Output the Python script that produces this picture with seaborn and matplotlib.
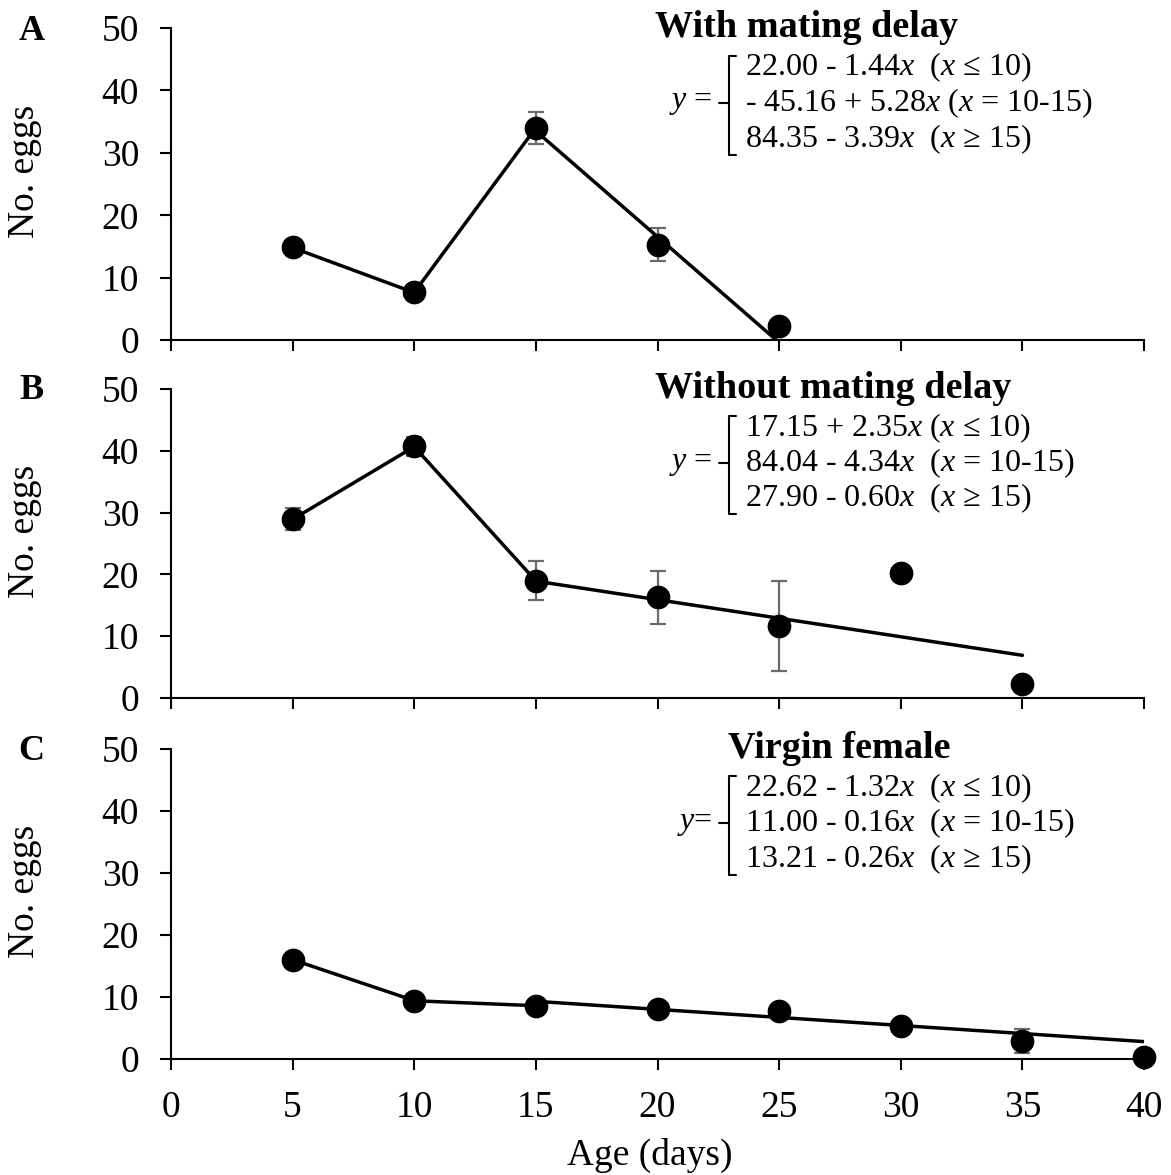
import numpy as np
import pandas as pd
import matplotlib
matplotlib.use("Agg")
import matplotlib.pyplot as plt
import seaborn as sns

# ---- data -------------------------------------------------------------
ages_a = [5, 10, 15, 20, 25]
eggs_a = [14.9, 7.7, 34.0, 15.3, 2.2]
se_a = [0.0, 0.0, 2.5, 2.7, 0.0]

ages_b = [5, 10, 15, 20, 25, 30, 35]
eggs_b = [28.9, 40.7, 19.0, 16.3, 11.6, 20.2, 2.2]
se_b = [1.8, 1.6, 3.1, 4.3, 7.3, 0.0, 0.0]

ages_c = [5, 10, 15, 20, 25, 30, 35, 40]
eggs_c = [15.9, 9.4, 8.6, 8.1, 7.8, 5.4, 2.9, 0.4]
se_c = [0.0, 0.0, 0.0, 0.0, 0.0, 0.0, 1.9, 0.0]

# piecewise regression: (intercept, slope) and the x-range of each piece
fit_a = [(22.00, -1.44), (-45.16, 5.28), (84.35, -3.39)]
fit_b = [(17.15, 2.35), (84.04, -4.34), (27.90, -0.60)]
fit_c = [(22.62, -1.32), (11.00, -0.16), (13.21, -0.26)]
ranges_a = [(5, 10), (10, 15), (15, 25)]
ranges_b = [(5, 10), (10, 15), (15, 35)]
ranges_c = [(5, 10), (10, 15), (15, 40)]

titles = ["With mating delay", "Without mating delay", "Virgin female"]
letters = ["A", "B", "C"]
eq_lhs = ["$y$ =", "$y$ =", "$y$="]
eq_a = ["22.00 - 1.44$x$  ($x$ \u2264 10)",
        "- 45.16 + 5.28$x$ ($x$ = 10-15)",
        "84.35 - 3.39$x$  ($x$ \u2265 15)"]
eq_b = ["17.15 + 2.35$x$ ($x$ \u2264 10)",
        "84.04 - 4.34$x$  ($x$ = 10-15)",
        "27.90 - 0.60$x$  ($x$ \u2265 15)"]
eq_c = ["22.62 - 1.32$x$  ($x$ \u2264 10)",
        "11.00 - 0.16$x$  ($x$ = 10-15)",
        "13.21 - 0.26$x$  ($x$ \u2265 15)"]
x_ticks = [0, 5, 10, 15, 20, 25, 30, 35, 40]
y_ticks = [0, 10, 20, 30, 40, 50]

# ---- style --------------------------------------------------------------
sns.set_theme(style="ticks")
plt.rcParams["font.family"] = ["Liberation Serif", "DejaVu Serif"]
plt.rcParams["mathtext.fontset"] = "custom"
plt.rcParams["mathtext.rm"] = "Liberation Serif"
plt.rcParams["mathtext.it"] = "Liberation Serif:italic"
plt.rcParams["axes.linewidth"] = 1.5

fig = plt.figure(figsize=(11.71, 11.75), dpi=100)

left, width = 0.1460, 0.8310
rects = [
    (left, 0.7106, width, 0.2655),
    (left, 0.4060, width, 0.2630),
    (left, 0.0987, width, 0.2638),
]

panels = [
    (ages_a, eggs_a, se_a, fit_a, ranges_a, eq_a, 0.497),
    (ages_b, eggs_b, se_b, fit_b, ranges_b, eq_b, 0.497),
    (ages_c, eggs_c, se_c, fit_c, ranges_c, eq_c, 0.572),
]
letter_y = [0.973, 0.668, 0.360]

for i, (rect, (ages, eggs, se, fit, rngs, eqs, title_x)) in enumerate(zip(rects, panels)):
    ax = fig.add_axes(rect)

    # fitted piecewise lines
    for (b0, b1), (x0, x1) in zip(fit, rngs):
        seg = pd.DataFrame({"age": [x0, x1], "eggs": [b0 + b1 * x0, b0 + b1 * x1]})
        sns.lineplot(data=seg, x="age", y="eggs", ax=ax, color="black",
                     linewidth=2.5, estimator=None, zorder=2)

    # error bars (only where a standard error exists)
    df = pd.DataFrame({"age": ages, "eggs": eggs, "se": se})
    eb = df[df["se"] > 0]
    ax.errorbar(eb["age"], eb["eggs"], yerr=eb["se"], fmt="none",
                ecolor="#6b6b6b", elinewidth=1.6, capsize=5.5, capthick=1.6,
                zorder=1)

    # means
    sns.scatterplot(data=df, x="age", y="eggs", ax=ax, color="black",
                    edgecolor="black", s=250, zorder=3, clip_on=False)

    ax.set_xlim(0, 40)
    ax.set_ylim(0, 50)
    ax.set_xticks(x_ticks)
    ax.set_yticks(y_ticks)
    ax.tick_params(axis="both", direction="out", length=8, width=1.5,
                   color="black", labelsize=27, pad=15, labelcolor="black")
    for s in ("top", "right"):
        ax.spines[s].set_visible(False)
    for s in ("left", "bottom"):
        ax.spines[s].set_color("black")
        ax.spines[s].set_linewidth(1.5)

    ax.set_ylabel("No. eggs", fontsize=27, color="black")
    ax.yaxis.set_label_coords(-0.133, 0.54)
    if i < 2:
        ax.set_xlabel("")
        ax.tick_params(axis="x", labelbottom=False)
    else:
        ax.set_xlabel("Age (days)", fontsize=27, color="black")
        ax.xaxis.set_label_coords(0.492, -0.255)

    # panel title
    ax.text(title_x, 0.97, titles[i], transform=ax.transAxes, fontsize=27.5,
            fontweight="bold", ha="left", va="baseline", color="black")

    # equation block with bracket
    line_y = [0.874, 0.760, 0.645]
    for yy, s in zip(line_y, eqs):
        ax.text(0.590, yy, s, transform=ax.transAxes, fontsize=23,
                ha="left", va="center", color="black")
    ax.text(0.556, 0.760, eq_lhs[i], transform=ax.transAxes, fontsize=23,
            ha="right", va="center", color="black")
    bx, top, bot, mid = 0.573, 0.912, 0.594, 0.760
    ax.plot([bx + 0.008, bx, bx, bx + 0.008], [top, top, bot, bot],
            transform=ax.transAxes, color="black", lw=1.5, clip_on=False)
    ax.plot([bx - 0.010, bx], [mid, mid], transform=ax.transAxes,
            color="black", lw=1.5, clip_on=False)

    fig.text(0.027, letter_y[i], letters[i], fontsize=26, fontweight="bold",
             ha="center", va="center", color="black")

fig.savefig("out.png", dpi=100, facecolor="white")
